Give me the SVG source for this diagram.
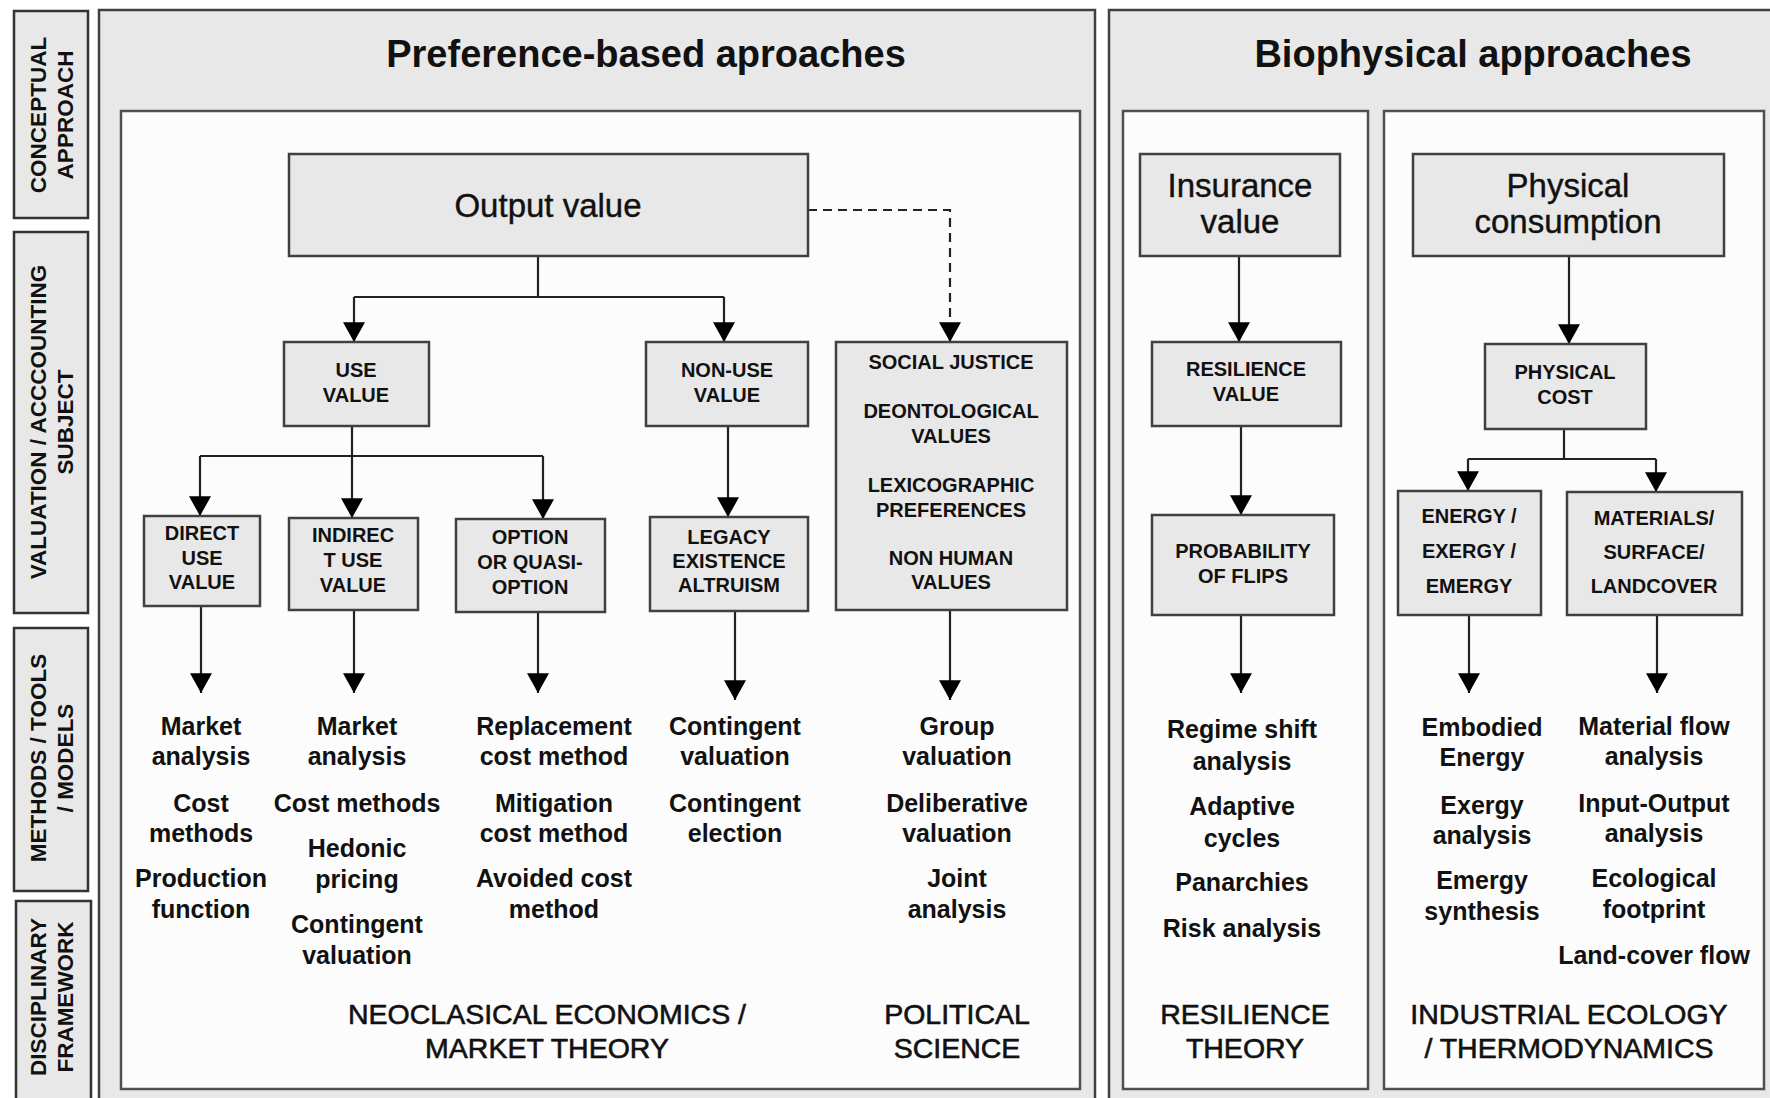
<svg xmlns="http://www.w3.org/2000/svg" width="1770" height="1098" viewBox="0 0 1770 1098">
<defs>
<marker id="arr" markerUnits="userSpaceOnUse" markerWidth="22" markerHeight="22" viewBox="0 0 18 20" refX="18" refY="10" orient="auto">
<path d="M0,0 L18,10 L0,20 z" fill="#000"/>
</marker>
</defs>
<style>
.panel{fill:#e8e8e8;stroke:#404040;stroke-width:2.5}
.inner{fill:#fcfcfc;stroke:#505050;stroke-width:2.5}
.side{fill:#e8e8e8;stroke:#333;stroke-width:2.5}
.node{fill:#e8e8e8;stroke:#404040;stroke-width:2.5}
.title{font-family:"Liberation Sans",Arial,sans-serif;font-weight:bold;font-size:38px;fill:#111;text-anchor:middle}
.big{font-family:"Liberation Sans",Arial,sans-serif;font-size:33px;fill:#111;text-anchor:middle;stroke:#111;stroke-width:0.4}
.lbl{font-family:"Liberation Sans",Arial,sans-serif;font-weight:bold;font-size:20px;fill:#111;text-anchor:middle}
.m{font-family:"Liberation Sans",Arial,sans-serif;font-weight:bold;font-size:25px;fill:#111;text-anchor:middle}
.d{font-family:"Liberation Sans",Arial,sans-serif;font-size:28.5px;fill:#111;text-anchor:middle;stroke:#111;stroke-width:0.6}
.s{font-family:"Liberation Sans",Arial,sans-serif;font-weight:bold;font-size:22.5px;fill:#111;text-anchor:middle}
.c{fill:none;stroke:#222;stroke-width:2.2}
.a{fill:none;stroke:#222;stroke-width:2.2;marker-end:url(#arr)}
.dash{fill:none;stroke:#222;stroke-width:2.2;stroke-dasharray:9,6;marker-end:url(#arr)}
</style>
<rect width="1770" height="1098" fill="#ffffff"/>

<g id="side-conceptual">
<rect class="side" x="14" y="11" width="74" height="207"/>
<text class="s" transform="translate(46,115) rotate(-90)">CONCEPTUAL</text>
<text class="s" transform="translate(73,115) rotate(-90)">APPROACH</text>
</g>
<g id="side-valuation">
<rect class="side" x="14" y="232" width="74" height="381"/>
<text class="s" transform="translate(46,422) rotate(-90)">VALUATION / ACCCOUNTING</text>
<text class="s" transform="translate(73,422) rotate(-90)">SUBJECT</text>
</g>
<g id="side-methods">
<rect class="side" x="14" y="628" width="74" height="263"/>
<text class="s" transform="translate(46,758) rotate(-90)">METHODS / TOOLS</text>
<text class="s" transform="translate(73,758) rotate(-90)">/ MODELS</text>
</g>
<g id="side-disciplinary">
<rect class="side" x="16" y="901" width="75" height="200"/>
<text class="s" transform="translate(46,997) rotate(-90)">DISCIPLINARY</text>
<text class="s" transform="translate(73,997) rotate(-90)">FRAMEWORK</text>
</g>

<g id="panel-preference">
<rect class="panel" x="99" y="10" width="996" height="1092"/>
<text class="title" x="646" y="67">Preference-based aproaches</text>
<rect class="inner" x="121" y="111" width="959" height="978"/>
</g>
<g id="panel-biophysical">
<rect class="panel" x="1109" y="10" width="665" height="1092"/>
<text class="title" x="1473" y="67">Biophysical approaches</text>
<rect class="inner" x="1123" y="111" width="245" height="978"/>
<rect class="inner" x="1384" y="111" width="380" height="978"/>
</g>

<g id="connectors">
<path class="c" d="M538,256 V297 M354,297 H724"/>
<path class="a" d="M354,297 V342"/>
<path class="a" d="M724,297 V342"/>
<path class="dash" d="M808,210 H950 V342"/>
<path class="c" d="M352,426 V456 M200,456 H543"/>
<path class="a" d="M200,456 V516"/>
<path class="a" d="M352,456 V518"/>
<path class="a" d="M543,456 V519"/>
<path class="a" d="M728,426 V517"/>
<path class="a" d="M201,606 V693"/>
<path class="a" d="M354,610 V693"/>
<path class="a" d="M538,612 V693"/>
<path class="a" d="M735,611 V700"/>
<path class="a" d="M950,610 V700"/>
<path class="a" d="M1239,256 V342"/>
<path class="a" d="M1241,426 V515"/>
<path class="a" d="M1241,615 V693"/>
<path class="a" d="M1569,256 V344"/>
<path class="c" d="M1564,429 V459 M1468,459 H1656"/>
<path class="a" d="M1468,459 V491"/>
<path class="a" d="M1656,459 V492"/>
<path class="a" d="M1469,615 V693"/>
<path class="a" d="M1657,615 V693"/>
</g>

<g id="output-value">
<rect class="node" x="289" y="154" width="519" height="102"/>
<text class="big" x="548" y="217">Output value</text>
</g>
<g id="use-value">
<rect class="node" x="284" y="342" width="145" height="84"/>
<text class="lbl" x="356" y="377">USE</text>
<text class="lbl" x="356" y="402">VALUE</text>
</g>
<g id="non-use-value">
<rect class="node" x="646" y="342" width="162" height="84"/>
<text class="lbl" x="727" y="377">NON-USE</text>
<text class="lbl" x="727" y="402">VALUE</text>
</g>
<g id="social-justice">
<rect class="node" x="836" y="342" width="231" height="268"/>
<text class="lbl" x="951" y="369">SOCIAL JUSTICE</text>
<text class="lbl" x="951" y="418">DEONTOLOGICAL</text>
<text class="lbl" x="951" y="443">VALUES</text>
<text class="lbl" x="951" y="492">LEXICOGRAPHIC</text>
<text class="lbl" x="951" y="517">PREFERENCES</text>
<text class="lbl" x="951" y="565">NON HUMAN</text>
<text class="lbl" x="951" y="589">VALUES</text>
</g>
<g id="direct-use">
<rect class="node" x="144" y="516" width="116" height="90"/>
<text class="lbl" x="202" y="540">DIRECT</text>
<text class="lbl" x="202" y="565">USE</text>
<text class="lbl" x="202" y="589">VALUE</text>
</g>
<g id="indirect-use">
<rect class="node" x="289" y="518" width="129" height="92"/>
<text class="lbl" x="353" y="542">INDIREC</text>
<text class="lbl" x="353" y="567">T USE</text>
<text class="lbl" x="353" y="592">VALUE</text>
</g>
<g id="option">
<rect class="node" x="456" y="519" width="149" height="93"/>
<text class="lbl" x="530" y="544">OPTION</text>
<text class="lbl" x="530" y="569">OR QUASI-</text>
<text class="lbl" x="530" y="594">OPTION</text>
</g>
<g id="legacy">
<rect class="node" x="650" y="517" width="158" height="94"/>
<text class="lbl" x="729" y="544">LEGACY</text>
<text class="lbl" x="729" y="568">EXISTENCE</text>
<text class="lbl" x="729" y="592">ALTRUISM</text>
</g>
<g id="insurance-value">
<rect class="node" x="1140" y="154" width="200" height="102"/>
<text class="big" x="1240" y="197">Insurance</text>
<text class="big" x="1240" y="233">value</text>
</g>
<g id="resilience-value">
<rect class="node" x="1152" y="342" width="189" height="84"/>
<text class="lbl" x="1246" y="376">RESILIENCE</text>
<text class="lbl" x="1246" y="401">VALUE</text>
</g>
<g id="probability-flips">
<rect class="node" x="1152" y="515" width="182" height="100"/>
<text class="lbl" x="1243" y="558">PROBABILITY</text>
<text class="lbl" x="1243" y="583">OF FLIPS</text>
</g>
<g id="physical-consumption">
<rect class="node" x="1413" y="154" width="311" height="102"/>
<text class="big" x="1568" y="197">Physical</text>
<text class="big" x="1568" y="233">consumption</text>
</g>
<g id="physical-cost">
<rect class="node" x="1485" y="344" width="161" height="85"/>
<text class="lbl" x="1565" y="379">PHYSICAL</text>
<text class="lbl" x="1565" y="404">COST</text>
</g>
<g id="energy">
<rect class="node" x="1398" y="491" width="143" height="124"/>
<text class="lbl" x="1469" y="523">ENERGY /</text>
<text class="lbl" x="1469" y="558">EXERGY /</text>
<text class="lbl" x="1469" y="593">EMERGY</text>
</g>
<g id="materials">
<rect class="node" x="1567" y="492" width="175" height="123"/>
<text class="lbl" x="1654" y="525">MATERIALS/</text>
<text class="lbl" x="1654" y="559">SURFACE/</text>
<text class="lbl" x="1654" y="593">LANDCOVER</text>
</g>

<g id="methods-direct">
<text class="m" x="201" y="735">Market</text>
<text class="m" x="201" y="765">analysis</text>
<text class="m" x="201" y="812">Cost</text>
<text class="m" x="201" y="842">methods</text>
<text class="m" x="201" y="887">Production</text>
<text class="m" x="201" y="918">function</text>
</g>
<g id="methods-indirect">
<text class="m" x="357" y="735">Market</text>
<text class="m" x="357" y="765">analysis</text>
<text class="m" x="357" y="812">Cost methods</text>
<text class="m" x="357" y="857">Hedonic</text>
<text class="m" x="357" y="888">pricing</text>
<text class="m" x="357" y="933">Contingent</text>
<text class="m" x="357" y="964">valuation</text>
</g>
<g id="methods-option">
<text class="m" x="554" y="735">Replacement</text>
<text class="m" x="554" y="765">cost method</text>
<text class="m" x="554" y="812">Mitigation</text>
<text class="m" x="554" y="842">cost method</text>
<text class="m" x="554" y="887">Avoided cost</text>
<text class="m" x="554" y="918">method</text>
</g>
<g id="methods-legacy">
<text class="m" x="735" y="735">Contingent</text>
<text class="m" x="735" y="765">valuation</text>
<text class="m" x="735" y="812">Contingent</text>
<text class="m" x="735" y="842">election</text>
</g>
<g id="methods-social">
<text class="m" x="957" y="735">Group</text>
<text class="m" x="957" y="765">valuation</text>
<text class="m" x="957" y="812">Deliberative</text>
<text class="m" x="957" y="842">valuation</text>
<text class="m" x="957" y="887">Joint</text>
<text class="m" x="957" y="918">analysis</text>
</g>
<g id="methods-resilience">
<text class="m" x="1242" y="738">Regime shift</text>
<text class="m" x="1242" y="770">analysis</text>
<text class="m" x="1242" y="815">Adaptive</text>
<text class="m" x="1242" y="847">cycles</text>
<text class="m" x="1242" y="891">Panarchies</text>
<text class="m" x="1242" y="937">Risk analysis</text>
</g>
<g id="methods-energy">
<text class="m" x="1482" y="736">Embodied</text>
<text class="m" x="1482" y="766">Energy</text>
<text class="m" x="1482" y="814">Exergy</text>
<text class="m" x="1482" y="844">analysis</text>
<text class="m" x="1482" y="889">Emergy</text>
<text class="m" x="1482" y="920">synthesis</text>
</g>
<g id="methods-materials">
<text class="m" x="1654" y="735">Material flow</text>
<text class="m" x="1654" y="765">analysis</text>
<text class="m" x="1654" y="812">Input-Output</text>
<text class="m" x="1654" y="842">analysis</text>
<text class="m" x="1654" y="887">Ecological</text>
<text class="m" x="1654" y="918">footprint</text>
<text class="m" x="1654" y="964">Land-cover flow</text>
</g>

<g id="discipline-neoclassical">
<text class="d" x="547" y="1024">NEOCLASICAL ECONOMICS /</text>
<text class="d" x="547" y="1058">MARKET THEORY</text>
</g>
<g id="discipline-political">
<text class="d" x="957" y="1024">POLITICAL</text>
<text class="d" x="957" y="1058">SCIENCE</text>
</g>
<g id="discipline-resilience">
<text class="d" x="1245" y="1024">RESILIENCE</text>
<text class="d" x="1245" y="1058">THEORY</text>
</g>
<g id="discipline-industrial">
<text class="d" x="1569" y="1024">INDUSTRIAL ECOLOGY</text>
<text class="d" x="1569" y="1058">/ THERMODYNAMICS</text>
</g>
</svg>
